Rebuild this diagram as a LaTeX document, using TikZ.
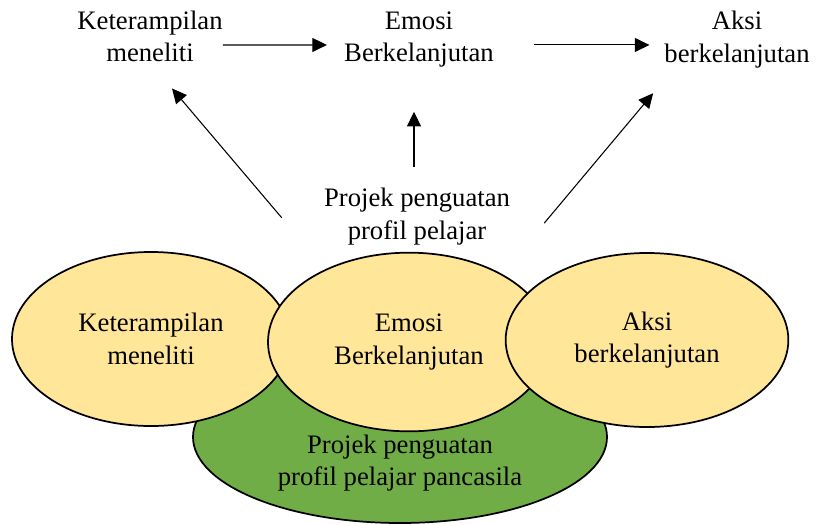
\documentclass[tikz,border=0pt]{standalone}
\usepackage{fontspec}
\setmainfont{Liberation Serif}
\usetikzlibrary{shapes.geometric,arrows.meta}
\definecolor{kuning}{HTML}{FFE699}
\definecolor{hijau}{HTML}{70AD47}
\begin{document}
\begin{tikzpicture}[x=0.75pt, y=-0.75pt, font=\fontsize{20}{24.5}\selectfont,
  txt/.style = {align=center, inner sep=0pt},
  oval/.style = {draw, ellipse, line width=1.3pt, inner sep=0pt, align=center, fill=kuning},
  flow/.style = {-{Triangle[length=11pt, width=10.5pt]}, line width=0.8pt}]
\useasboundingbox (0,0) rectangle (816,524);
\node[oval, fill=hijau, minimum width=310.5pt, minimum height=129pt] (base) at (400,437) {};
\node[txt] (basetxt) at (400,463) {Projek penguatan\\profil pelajar pancasila};
\node[oval, minimum width=208.5pt, minimum height=130.5pt] (e1) at (151,339) {Keterampilan\\meneliti};
\node[oval, minimum width=211.5pt, minimum height=134pt] (e2) at (409,342) {Emosi\\Berkelanjutan};
\node[oval, minimum width=212pt, minimum height=130.5pt] (e3) at (647,340) {Aksi\\berkelanjutan};
\node[txt] (kt) at (150,36.5) {Keterampilan\\meneliti};
\node[txt] (em) at (419,39.5) {Emosi\\Berkelanjutan};
\node[txt] (ak) at (737,39.5) {Aksi\\berkelanjutan};
\node[txt] (pp) at (417,216.5) {Projek penguatan\\profil pelajar};
\draw[flow] ([yshift=-6.4pt]kt.east) -- ([xshift=-12.75pt, yshift=-4.1pt]em.west);
\draw[flow] ([xshift=30pt, yshift=-4.1pt]em.east) -- ([xshift=-11pt, yshift=-4.1pt]ak.west);
\draw[flow] ([xshift=-2.25pt, yshift=15.75pt]pp.north) -- ([xshift=-3.75pt, yshift=-33pt]em.south);
\draw[flow] ([xshift=-31.5pt, yshift=-1pt]pp.west) -- ([xshift=16.5pt, yshift=-19.5pt]kt.south);
\draw[flow] ([xshift=25.5pt, yshift=-5pt]pp.east) -- ([xshift=-8.25pt, yshift=-18.75pt]ak.south west);
\end{tikzpicture}
\end{document}
